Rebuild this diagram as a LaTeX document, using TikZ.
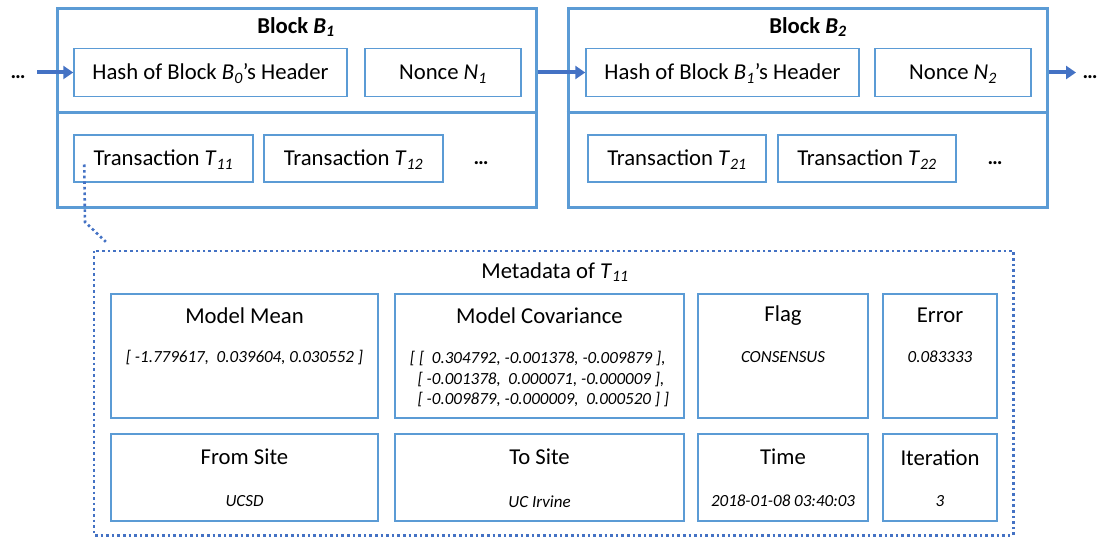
\documentclass[tikz,border=0pt]{standalone}
\usepackage{fontspec}
\setmainfont{Carlito}
\usetikzlibrary{arrows.meta}
\definecolor{boxblue}{HTML}{5B9BD5}
\definecolor{arrowblue}{HTML}{4472C4}
% italic symbol with italic subscript
\newcommand\subit[2]{\textit{#1}\textsubscript{\itshape #2}}
\begin{document}
\begin{tikzpicture}[x=1pt,y=-1pt,
  block/.style={draw=boxblue, line width=3pt, rectangle, inner sep=0pt},
  cell/.style={draw=boxblue, line width=1.5pt, rectangle, inner sep=0pt,
    font=\fontsize{22.7}{26}\selectfont},
  lbl/.style={text height=17pt, text depth=2pt},
  head/.style={font=\fontsize{22.7}{26}\selectfont, inner sep=0pt},
  val/.style={font=\fontsize{17}{20.5}\selectfont\itshape, inner sep=0pt},
  dots/.style={font=\fontsize{21}{24}\selectfont\bfseries, inner sep=0pt},
  link/.style={draw=arrowblue, line width=4pt, -{Triangle[length=10pt,width=13pt]}},
  meta/.style={draw=arrowblue, line width=2.6pt, dash pattern=on 2.6pt off 3pt}]
\useasboundingbox (0,0) rectangle (1099,537);

% ---------- Block B1 ----------
\node[block, minimum width=479pt, minimum height=199pt] (b1) at (296.5,108.5) {};
\coordinate (d1) at (0,113);
\draw[boxblue, line width=3pt] (b1.west |- d1) -- (b1.east |- d1);
\node[head, font=\fontsize{22.7}{26}\selectfont\bfseries] (b1t) at (296,27) {Block \subit{B}{1}};
\node[cell, lbl, minimum width=273pt, minimum height=48pt] (h1) at (210.5,72.5) {Hash of Block \subit{B}{0}’s Header};
\node[cell, lbl, minimum width=156pt, minimum height=48pt] (n1) at (443,72.5) {Nonce \subit{N}{1}};
\node[cell, lbl, minimum width=179pt, minimum height=47pt] (t11) at (163.5,158.5) {Transaction \subit{T}{11}};
\node[cell, lbl, minimum width=179pt, minimum height=47pt] (t12) at (353.5,158.5) {Transaction \subit{T}{12}};
\node[dots] (e1) at (481,163) {…};

% ---------- Block B2 ----------
\node[block, minimum width=479pt, minimum height=199pt] (b2) at (807.5,108.5) {};
\draw[boxblue, line width=3pt] (b2.west |- d1) -- (b2.east |- d1);
\node[head, font=\fontsize{22.7}{26}\selectfont\bfseries] (b2t) at (808,27) {Block \subit{B}{2}};
\node[cell, lbl, minimum width=273pt, minimum height=48pt] (h2) at (722.5,72.5) {Hash of Block \subit{B}{1}’s Header};
\node[cell, lbl, minimum width=156pt, minimum height=48pt] (n2) at (953,72.5) {Nonce \subit{N}{2}};
\node[cell, lbl, minimum width=178pt, minimum height=47pt] (t21) at (677,158.5) {Transaction \subit{T}{21}};
\node[cell, lbl, minimum width=178pt, minimum height=47pt] (t22) at (867,158.5) {Transaction \subit{T}{22}};
\node[dots] (e2) at (995,163) {…};

% ---------- chain links ----------
\node[dots] (el) at (18,77) {…};
\coordinate (inL) at (37,72.5);
\draw[link] (inL) -- (h1.west);
\draw[link] (b1.east |- h1) -- (h2.west);
\coordinate (outR) at (1076,72.5);
\draw[link] (b2.east |- h2) -- (outR);
\node[dots] (er) at (1090,77) {…};

% ---------- metadata of T11 ----------
\node[rectangle, minimum width=919pt, minimum height=284pt, inner sep=0pt] (md) at (553.5,393) {};
\draw[meta] (md.north west) rectangle (md.south east);
\node[head] (mdt) at (555,272) {Metadata of \subit{T}{11}};
\coordinate (bend) at (85,222);
\draw[meta] ([xshift=11pt,yshift=-6pt]t11.west) -- (bend) -- ([xshift=12pt,yshift=9pt]md.north west);

% first row of fields
\node[cell, minimum width=267pt, minimum height=124pt] (mean) at (244.5,356) {};
\node[cell, minimum width=289pt, minimum height=124pt] (cov) at (539.5,356) {};
\node[cell, minimum width=170pt, minimum height=124pt] (flag) at (783,356) {};
\node[cell, minimum width=114pt, minimum height=124pt] (err) at (940,356) {};
% second row of fields
\node[cell, minimum width=267pt, minimum height=87pt] (from) at (244.5,477.5) {};
\node[cell, minimum width=289pt, minimum height=87pt] (to) at (539.5,477.5) {};
\node[cell, minimum width=170pt, minimum height=87pt] (time) at (783,477.5) {};
\node[cell, minimum width=114pt, minimum height=87pt] (iter) at (940,477.5) {};

\node[head] at ([yshift=-22pt]mean.north) {Model Mean};
\node[val]  at ([yshift=-64pt]mean.north) {[ -1.779617,\ \ 0.039604, 0.030552 ]};
\node[head] at ([yshift=-22pt]cov.north) {Model Covariance};
\node[val, align=left] at ([yshift=-86pt]cov.north) {[ [\ \ 0.304792, -0.001378, -0.009879 ],\\
\ \ [ -0.001378,\ \ 0.000071, -0.000009 ],\\
\ \ [ -0.009879, -0.000009,\ \ 0.000520 ] ]};
\node[head] at ([yshift=-22pt]flag.north) {Flag};
\node[val]  at ([yshift=-64pt]flag.north) {CONSENSUS};
\node[head] at ([yshift=-22pt]err.north) {Error};
\node[val]  at ([yshift=-64pt]err.north) {0.083333};

\node[head] at ([yshift=-24pt]from.north) {From Site};
\node[val]  at ([yshift=-68pt]from.north) {UCSD};
\node[head] at ([yshift=-24pt]to.north) {To Site};
\node[val]  at ([yshift=-68pt]to.north) {UC Irvine};
\node[head] at ([yshift=-24pt]time.north) {Time};
\node[val]  at ([yshift=-68pt]time.north) {2018-01-08 03:40:03};
\node[head] at ([yshift=-24pt]iter.north) {Iteration};
\node[val]  at ([yshift=-68pt]iter.north) {3};
\end{tikzpicture}
\end{document}
